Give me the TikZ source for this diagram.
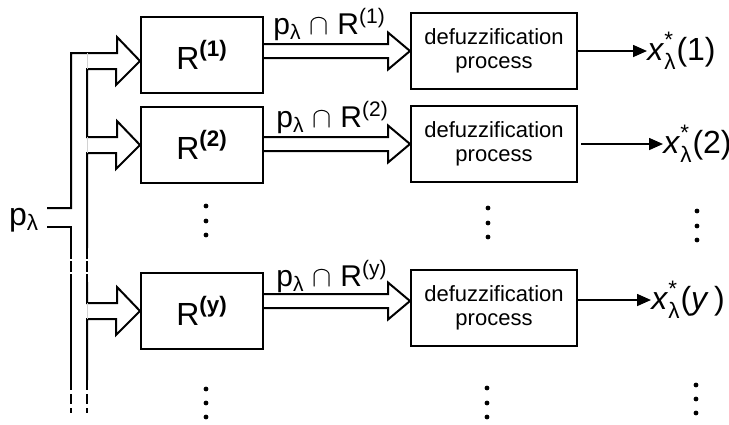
\documentclass[tikz,border=0pt]{standalone}
\usepackage{fontspec}
\setmainfont{Liberation Sans}
\usepackage{amsmath}
\usetikzlibrary{arrows.meta,positioning,calc}

\begin{document}
\begin{tikzpicture}[x=0.5pt, y=-0.5pt,
                rbox/.style={draw, line width=1pt, minimum width=61pt, minimum height=38pt, font=\fontsize{16}{18}\selectfont},
                dbox/.style={draw, line width=1pt, minimum width=83pt, minimum height=38pt, align=center, font=\fontsize{11}{12.3}\selectfont},
                bus/.style={line width=1pt},
                broken/.style={line width=1pt, dash pattern=on 5.5pt off 1pt},
                dashedbus/.style={line width=1pt, dash pattern=on 5pt off 2pt},
                faint/.style={gray!35, line width=0.5pt},
                outarrow/.style={-{Triangle[length=7pt,width=6pt]}, line width=0.8pt},
                lbl/.style={font=\fontsize{15}{17}\selectfont, inner sep=1pt},
                outlbl/.style={font=\fontsize{16}{18}\selectfont, inner sep=0pt, anchor=west}
            ]
            \useasboundingbox (0,0) rectangle (729,424);

            \node[rbox] (r1) at (202,55) {R\textsuperscript{\textbf{(1)}}};
            \node[rbox] (r2) at (202,145) {R\textsuperscript{\textbf{(2)}}};
            \node[rbox] (ry) at (202,311) {R\textsuperscript{\textbf{(y)}}};

            \node[dbox] (d1) at (494,51) {defuzzification\\process};
            \node[dbox] (d2) at (494,144) {defuzzification\\process};
            \node[dbox] (dy) at (494,308) {defuzzification\\process};

            \node[lbl, font=\fontsize{16}{18}\selectfont] (pin) at (24,220) {p\textsubscript{λ}};
            \coordinate (in1) at (47,208);
            \coordinate (in2) at (47,227);

            % tips of the hollow arrows
            \coordinate (t1) at ($(r1.west)+(0,6)$);
            \coordinate (t2) at (r2.west);
            \coordinate (ty) at (ry.west);
            \coordinate (sy) at ($(dy.west)+(0,-7)$);

            % input bus, outer and inner line
            \draw[bus] (in1) -| (71,53) -- ++(46,0) -- ++(0,-16) -- (t1) -- ++(-24,24) -- ++(0,-16) -- (87,69)
                -- (87,137) -- ++(30,0) -- ++(0,-16) -- (t2) -- ++(-24,24) -- ++(0,-16) -- (87,153) -- (87,248);
            \draw[broken] (87,248) -- (87,282);
            \draw[bus] (87,282) -- (87,303) -- ++(30,0) -- ++(0,-16) -- (ty) -- ++(-24,24) -- ++(0,-16) -- (87,319) -- (87,380);
            \draw[dashedbus] (87,380) -- (87,413);

            \draw[bus] (in2) -| (71,248);
            \draw[broken] (71,248) -- (71,282);
            \draw[bus] (71,282) -- (71,380);
            \draw[dashedbus] (71,380) -- (71,413);

            \draw[faint] (87,53) -- (87,69);
            \draw[faint] (87,137) -- (87,153);
            \draw[faint] (87,303) -- (87,319);

            % hollow arrows R -> defuzzification
            \draw[bus] ($(r1.east |- d1.west)+(0,-7)$) -- ($(d1.west)+(-22,-7)$) -- ++(0,-11.5) -- (d1.west) -- ++(-22,18.5) -- ++(0,-11.5) -- ($(r1.east |- d1.west)+(0,7)$);
            \draw[bus] ($(r2.east |- d2.west)+(0,-7)$) -- ($(d2.west)+(-22,-7)$) -- ++(0,-11.5) -- (d2.west) -- ++(-22,18.5) -- ++(0,-11.5) -- ($(r2.east |- d2.west)+(0,7)$);
            \draw[bus] ($(ry.east |- sy)+(0,-7)$) -- ($(sy)+(-22,-7)$) -- ++(0,-11.5) -- (sy) -- ++(-22,18.5) -- ++(0,-11.5) -- ($(ry.east |- sy)+(0,7)$);

            \node[lbl, anchor=south west] (l1) at ($(r1.east |- d1.west)+(7,-8)$) {p\textsubscript{λ} $\cap$ R\textsuperscript{(1)}};
            \node[lbl, anchor=south west] (l2) at ($(r2.east |- d2.west)+(10,-8)$) {p\textsubscript{λ} $\cap$ R\textsuperscript{(2)}};
            \node[lbl, anchor=south west] (ly) at ($(ry.east |- sy)+(10,-6)$) {p\textsubscript{λ} $\cap$ R\textsuperscript{(y)}};

            % outputs
            \node[outlbl] (x1) at (647,51) {\textit{x}$^{\text{*}}_{\text{λ}}$(1)};
            \node[outlbl] (x2) at (663,144) {\textit{x}$^{\text{*}}_{\text{λ}}$(2)};
            \node[outlbl] (xy) at (651,300) {\textit{x}$^{\text{*}}_{\text{λ}}$(\textit{y}\,)};

            \draw[outarrow] (d1.east) -- (x1.west);
            \draw[outarrow] ($(d2.east)+(3,0)$) -- (x2.west);
            \draw[outarrow] (dy.east |- xy.west) -- (xy.west);

            % vertical dots
            \fill (206,206) circle (2.4) (206,221) circle (2.4) (206,235) circle (2.4);
            \fill (488,208) circle (2.4) (488,223) circle (2.4) (488,237) circle (2.4);
            \fill (697,211) circle (2.4) (697,226) circle (2.4) (697,240) circle (2.4);
            \fill (206,389) circle (2.4) (206,403) circle (2.4) (206,417) circle (2.4);
            \fill (487,388) circle (2.4) (487,403) circle (2.4) (487,417) circle (2.4);
            \fill (696,385) circle (2.4) (696,399) circle (2.4) (696,413) circle (2.4);

        \end{tikzpicture}
\end{document}
